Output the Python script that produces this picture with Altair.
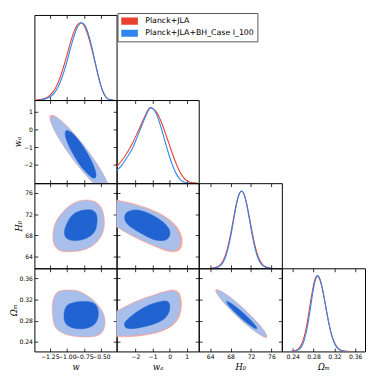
import altair as alt
import pandas as pd

SERIES = ["Planck+JLA", "Planck+JLA+BH_Case I_100"]
LINE_RED = "#e8412f"
LINE_BLUE = "#2f86ee"
RED_OUTER = "#f3a69f"
BLUE_OUTER = "#a7bfea"
BLUE_INNER = "#2063d1"

TITLES = {"w": "w", "wa": "wₐ", "H0": "H₀", "Om": "Ωₘ"}
TICKS = {"w": [-1.25, -1.0, -0.75, -0.5], "wa": [-2, -1, 0, 1],
         "H0": [64, 68, 72, 76], "Om": [0.24, 0.28, 0.32, 0.36]}
FMT = {"w": ".2f", "wa": "d", "H0": "d", "Om": ".2f"}
XDOM = {"w": [-1.476, -0.269], "wa": [-3.11, 1.71], "H0": [61.76, 78.05], "Om": [0.2193, 0.3788]}
YDOM = {"wa": [-3.04, 1.68], "H0": [61.8, 77.85], "Om": [0.222, 0.379]}

# ---------------- 1D marginals (normalised to peak 1) ----------------
W_RED_X = [-1.45, -1.40, -1.35, -1.30, -1.25, -1.20, -1.15, -1.10, -1.05, -1.00, -0.95, -0.90,
           -0.85, -0.80, -0.75, -0.70, -0.65, -0.60, -0.55, -0.50, -0.45, -0.40, -0.35, -0.30]
W_RED_P = [0.003, 0.007, 0.015, 0.031, 0.061, 0.109, 0.183, 0.288, 0.421, 0.575, 0.732, 0.871,
           0.966, 1.000, 0.966, 0.867, 0.717, 0.537, 0.352, 0.190, 0.075, 0.018, 0.003, 0.0]
W_BLUE_X = [-1.38, -1.33, -1.28, -1.23, -1.18, -1.13, -1.08, -1.03, -0.98, -0.93, -0.88,
            -0.83, -0.78, -0.73, -0.68, -0.63, -0.58, -0.53, -0.48, -0.43, -0.38, -0.33]
W_BLUE_P = [0.005, 0.012, 0.026, 0.052, 0.097, 0.167, 0.269, 0.401, 0.558, 0.720, 0.864,
            0.964, 1.0, 0.960, 0.846, 0.677, 0.480, 0.286, 0.130, 0.040, 0.007, 0.0]

WA_RED_X = [-3.3, -3.1, -2.8, -2.5, -2.2, -1.9, -1.6, -1.4, -1.2, -1.1, -1.0, -0.8, -0.6, -0.4,
            -0.2, 0.0, 0.2, 0.4, 0.6, 0.8, 1.0, 1.2, 1.4, 1.6]
WA_RED_P = [0.17, 0.22, 0.30, 0.40, 0.52, 0.66, 0.81, 0.91, 0.99, 1.0, 0.99, 0.95, 0.87, 0.76,
            0.63, 0.50, 0.37, 0.25, 0.15, 0.08, 0.035, 0.012, 0.004, 0.001]
WA_BLUE_X = [-3.3, -3.1, -2.8, -2.5, -2.2, -1.9, -1.6, -1.4, -1.2, -1.1, -1.0, -0.8, -0.6, -0.4,
             -0.2, 0.0, 0.2, 0.4, 0.6, 0.8, 1.0, 1.2]
WA_BLUE_P = [0.13, 0.17, 0.24, 0.34, 0.45, 0.61, 0.78, 0.89, 0.98, 1.0, 0.99, 0.93, 0.81, 0.66,
             0.50, 0.35, 0.22, 0.12, 0.055, 0.02, 0.006, 0.001]

H0_X = [64.15, 64.65, 65.15, 65.65, 66.15, 66.65, 67.15, 67.65, 68.15, 68.65, 69.15, 69.65, 70.15,
        70.65, 71.15, 71.65, 72.15, 72.65, 73.15, 73.65, 74.15, 74.65, 75.15, 75.65, 76.15]
H0_RED_P = [0.0017, 0.0047, 0.0119, 0.0277, 0.0588, 0.114, 0.203, 0.330, 0.492, 0.671, 0.838, 0.957,
            1.0, 0.957, 0.838, 0.671, 0.492, 0.330, 0.203, 0.114, 0.0588, 0.0277, 0.0119, 0.0047, 0.0017]
H0_BLUE_P = [0.0009, 0.0027, 0.0076, 0.0192, 0.0439, 0.0914, 0.172, 0.295, 0.458, 0.644, 0.823, 0.952,
             1.0, 0.952, 0.823, 0.644, 0.458, 0.295, 0.172, 0.0914, 0.0439, 0.0192, 0.0076, 0.0027, 0.0009]

OM_RED_X = [0.237, 0.242, 0.247, 0.252, 0.257, 0.262, 0.267, 0.272, 0.277, 0.282, 0.287, 0.292,
            0.297, 0.302, 0.307, 0.312, 0.317, 0.322, 0.327, 0.332, 0.337, 0.342, 0.347]
OM_RED_P = [0.0014, 0.0049, 0.015, 0.040, 0.094, 0.194, 0.350, 0.554, 0.769, 0.936, 1.0, 0.952,
            0.823, 0.644, 0.458, 0.295, 0.172, 0.091, 0.044, 0.019, 0.0076, 0.0027, 0.0009]
OM_BLUE_X = [0.238, 0.243, 0.248, 0.253, 0.258, 0.263, 0.268, 0.273, 0.278, 0.283, 0.288, 0.293,
             0.298, 0.303, 0.308, 0.313, 0.318, 0.323, 0.328, 0.333, 0.338, 0.343]
OM_BLUE_P = [0.0008, 0.0030, 0.0101, 0.0297, 0.0756, 0.166, 0.317, 0.524, 0.751, 0.931, 1.0, 0.947,
             0.805, 0.615, 0.421, 0.259, 0.143, 0.0706, 0.0313, 0.0125, 0.0045, 0.0014]

# ---------------- 2D contours (vertices in data units) ----------------
W_WA_R95_X = [-0.377, -0.486, -0.680, -0.908, -1.109, -1.230, -1.238, -1.129, -0.935, -0.707, -0.506, -0.385]
W_WA_R95_Y = [-3.608, -3.459, -2.757, -1.693, -0.552, 0.366, 0.808, 0.659, -0.043, -1.107, -2.248, -3.166]
W_WA_B95_X = [-0.392, -0.497, -0.684, -0.905, -1.099, -1.216, -1.223, -1.118, -0.931, -0.710, -0.516, -0.399]
W_WA_B95_Y = [-3.533, -3.389, -2.711, -1.683, -0.581, 0.306, 0.733, 0.589, -0.089, -1.117, -2.219, -3.106]
W_WA_B68_X = [-0.585, -0.652, -0.760, -0.876, -0.973, -1.022, -1.010, -0.942, -0.835, -0.718, -0.622, -0.573]
W_WA_B68_Y = [-2.744, -2.661, -2.239, -1.589, -0.889, -0.328, -0.056, -0.139, -0.564, -1.211, -1.911, -2.472]

W_H0_R95_X = [-0.710, -0.560, -0.477, -0.447, -0.477, -0.586, -0.735, -0.908, -1.081, -1.181, -1.205, -1.172, -1.057, -0.884]
W_H0_R95_Y = [74.70, 74.19, 72.79, 70.56, 68.32, 66.41, 65.32, 64.95, 65.01, 66.09, 68.00, 70.23, 72.47, 74.19]
W_H0_B95_X = [-0.714, -0.570, -0.489, -0.460, -0.489, -0.594, -0.738, -0.906, -1.073, -1.169, -1.193, -1.160, -1.049, -0.882]
W_H0_B95_Y = [74.52, 74.03, 72.68, 70.53, 68.37, 66.53, 65.48, 65.12, 65.18, 66.22, 68.07, 70.22, 72.37, 74.03]
W_H0_B68_X = [-0.786, -0.642, -0.570, -0.556, -0.594, -0.714, -0.882, -1.001, -1.035, -0.987, -0.906]
W_H0_B68_Y = [72.68, 72.80, 72.06, 70.53, 68.68, 67.45, 67.02, 67.45, 68.68, 70.53, 71.94]

WA_H0_R95_X = [-3.454, -3.033, -2.305, -1.347, -0.360, 0.350, 0.720, 0.650, 0.250, -0.389, -1.347, -2.305, -3.033, -3.454]
WA_H0_R95_Y = [75.05, 74.62, 74.13, 73.20, 71.78, 69.90, 67.64, 65.55, 64.92, 65.32, 66.60, 68.08, 69.45, 70.18]
WA_H0_B95_X = [-3.454, -3.033, -2.305, -1.347, -0.389, 0.281, 0.607, 0.530, 0.185, -0.389, -1.347, -2.305, -3.033, -3.454]
WA_H0_B95_Y = [74.83, 74.40, 73.91, 72.99, 71.57, 69.73, 67.64, 65.73, 65.18, 65.55, 66.78, 68.25, 69.60, 70.34]
WA_H0_B68_X = [-2.496, -1.922, -1.155, -0.389, -0.006, -0.045, -0.389, -0.964, -1.730, -2.401, -2.631]
WA_H0_B68_Y = [72.37, 72.80, 72.06, 70.53, 68.99, 67.64, 67.02, 67.27, 68.50, 69.91, 71.14]

W_OM_R95_X = [-1.106, -0.933, -0.785, -0.612, -0.488, -0.438, -0.463, -0.562, -0.785, -1.006, -1.155, -1.204, -1.214, -1.179]
W_OM_R95_Y = [0.3362, 0.3380, 0.3336, 0.3190, 0.3000, 0.2810, 0.2620, 0.2512, 0.2494, 0.2539, 0.2652, 0.2841, 0.3095, 0.3272]
W_OM_B95_X = [-1.097, -0.930, -0.786, -0.618, -0.498, -0.450, -0.474, -0.570, -0.786, -1.001, -1.145, -1.193, -1.203, -1.169]
W_OM_B95_Y = [0.3348, 0.3366, 0.3323, 0.3182, 0.2998, 0.2814, 0.2629, 0.2525, 0.2507, 0.2550, 0.2660, 0.2844, 0.3090, 0.3262]
W_OM_B68_X = [-0.953, -0.786, -0.618, -0.546, -0.546, -0.618, -0.762, -0.930, -1.025, -1.040, -1.011]
W_OM_B68_Y = [0.3121, 0.3164, 0.3139, 0.3028, 0.2844, 0.2709, 0.2648, 0.2672, 0.2771, 0.2936, 0.3059]

WA_OM_R95_X = [-3.454, -3.033, -2.305, -1.347, -0.389, 0.210, 0.590, 0.700, 0.550, 0.150, -0.560, -1.539, -2.497, -3.033, -3.454]
WA_OM_R95_Y = [0.2922, 0.2995, 0.3118, 0.3241, 0.3343, 0.3381, 0.3303, 0.3090, 0.2864, 0.2707, 0.2592, 0.2523, 0.2497, 0.2497, 0.2497]
WA_OM_B95_X = [-3.454, -3.033, -2.305, -1.347, -0.389, 0.185, 0.511, 0.607, 0.473, 0.090, -0.581, -1.539, -2.497, -3.033, -3.454]
WA_OM_B95_Y = [0.2906, 0.2979, 0.3102, 0.3225, 0.3323, 0.3360, 0.3286, 0.3090, 0.2875, 0.2721, 0.2611, 0.2543, 0.2519, 0.2519, 0.2519]
WA_OM_B68_X = [-2.497, -1.922, -1.155, -0.389, -0.045, -0.006, -0.293, -0.964, -1.922, -2.497, -2.650]
WA_OM_B68_Y = [0.2814, 0.2967, 0.3102, 0.3170, 0.3139, 0.2998, 0.2844, 0.2734, 0.2660, 0.2660, 0.2734]

H0_OM_R95_X = [75.11, 74.10, 72.02, 69.44, 67.03, 65.45, 65.12, 66.13, 68.22, 70.80, 73.21, 74.78]
H0_OM_R95_Y = [0.2488, 0.2513, 0.2652, 0.2866, 0.3100, 0.3290, 0.3384, 0.3359, 0.3221, 0.3007, 0.2773, 0.2583]
H0_OM_B95_X = [74.92, 73.95, 71.95, 69.47, 67.15, 65.63, 65.31, 66.28, 68.29, 70.77, 73.09, 74.60]
H0_OM_B95_Y = [0.2505, 0.2529, 0.2663, 0.2869, 0.3094, 0.3276, 0.3367, 0.3343, 0.3210, 0.3004, 0.2779, 0.2597]
H0_OM_B68_X = [73.12, 72.56, 71.36, 69.84, 68.42, 67.46, 67.24, 67.81, 69.01, 70.53, 71.94, 72.90]
H0_OM_B68_Y = [0.2651, 0.2667, 0.2747, 0.2870, 0.3001, 0.3108, 0.3161, 0.3145, 0.3064, 0.2942, 0.2810, 0.2704]

COL_W = {"w": 84, "wa": 84, "H0": 85, "Om": 85}
ROW_H = {"w": 87, "wa": 85, "H0": 87, "Om": 85}
TS = 3.5


def sx(p):
    return alt.Scale(domain=XDOM[p], nice=False, zero=False)


def sy(p):
    return alt.Scale(domain=YDOM[p], nice=False, zero=False)


def ax_bottom(p, labels):
    kw = dict(orient="bottom", values=TICKS[p], format=FMT[p], labels=labels, offset=-TS,
              tickSize=TS, domain=False, grid=False, labelOverlap=False, labelFlush=False,
              labelPadding=2, titlePadding=3)
    kw["title"] = TITLES[p] if labels else None
    return alt.Axis(**kw)


def ax_left(p, labels):
    kw = dict(orient="left", values=TICKS[p], format=FMT[p], labels=labels, offset=-TS,
              tickSize=TS, domain=False, grid=False, labelOverlap=False, labelFlush=False,
              labelPadding=2, titlePadding=1)
    kw["title"] = TITLES[p] if labels else None
    return alt.Axis(**kw)


def ax_top(p):
    return alt.Axis(orient="top", values=TICKS[p], labels=False, title=None, offset=-TS,
                    tickSize=TS, domain=False, grid=False)


def ax_right(p):
    return alt.Axis(orient="right", values=TICKS[p], labels=False, title=None, offset=-TS,
                    tickSize=TS, domain=False, grid=False)


def poly_df(xs, ys):
    return pd.DataFrame({"x": xs, "y": ys, "i": list(range(len(xs)))})


def panel2d(px, py, polys, xlab, ylab):
    layers = []
    for k, (xs, ys, col) in enumerate(polys):
        first = k == 0
        layers.append(
            alt.Chart(poly_df(xs, ys)).mark_line(
                interpolate="cardinal-closed", fill=col, stroke=col, strokeWidth=0.5, clip=True
            ).encode(
                x=alt.X("x:Q", scale=sx(px), axis=ax_bottom(px, xlab) if first else None),
                y=alt.Y("y:Q", scale=sy(py), axis=ax_left(py, ylab) if first else None),
                order=alt.Order("i:Q"),
            )
        )
    xs, ys, _ = polys[0]
    layers.append(
        alt.Chart(poly_df(xs, ys)).mark_line(opacity=0, clip=True).encode(
            x=alt.X("x:Q", scale=sx(px), axis=ax_top(px)),
            y=alt.Y("y:Q", scale=sy(py), axis=ax_right(py)),
            order=alt.Order("i:Q"),
        )
    )
    return alt.layer(*layers).resolve_axis(x="independent", y="independent").properties(
        width=COL_W[px], height=ROW_H[py])


def panel1d(p, curves, xlab, with_legend=False):
    ysc = alt.Scale(domain=[0, 1.1], nice=False, zero=False)
    layers = []
    if with_legend:
        df = pd.concat([pd.DataFrame({"x": xs, "p": ps, "s": name})
                        for (xs, ps, _), name in zip(curves, SERIES)])
        layers.append(
            alt.Chart(df).mark_line(interpolate="monotone", clip=True, strokeWidth=1.1).encode(
                x=alt.X("x:Q", scale=sx(p), axis=ax_bottom(p, xlab)),
                y=alt.Y("p:Q", scale=ysc, axis=None),
                color=alt.Color("s:N", scale=alt.Scale(domain=SERIES, range=[LINE_RED, LINE_BLUE]),
                                legend=alt.Legend(
                                    title=None, orient="none", legendX=85, legendY=-2,
                                    symbolType="M-1.7,0H1.7", symbolSize=100, symbolStrokeWidth=7.3,
                                    labelFont="DejaVu Sans", labelFontSize=8, labelColor="black",
                                    labelOffset=7, symbolOffset=0, rowPadding=2.4, padding=3.3,
                                    clipHeight=10,
                                    strokeColor="#555555", fillColor="white")),
            )
        )
    else:
        for k, (xs, ps, col) in enumerate(curves):
            layers.append(
                alt.Chart(pd.DataFrame({"x": xs, "p": ps})).mark_line(
                    interpolate="monotone", clip=True, color=col, strokeWidth=1.1).encode(
                    x=alt.X("x:Q", scale=sx(p), axis=ax_bottom(p, xlab) if k == 0 else None),
                    y=alt.Y("p:Q", scale=ysc, axis=None),
                )
            )
    xs, ps, _ = curves[0]
    layers.append(
        alt.Chart(pd.DataFrame({"x": xs, "p": ps})).mark_line(opacity=0, clip=True).encode(
            x=alt.X("x:Q", scale=sx(p), axis=ax_top(p)),
            y=alt.Y("p:Q", scale=ysc, axis=None),
        )
    )
    return alt.layer(*layers).resolve_axis(x="independent").properties(width=COL_W[p], height=ROW_H[p])


def blank(pc, pr):
    return alt.Chart(pd.DataFrame({"x": [0.0]})).mark_point(opacity=0).encode(
        x=alt.X("x:Q", axis=None), y=alt.Y("x:Q", axis=None)
    ).properties(width=COL_W[pc], height=ROW_H[pr], view=alt.ViewBackground(strokeOpacity=0))


p11 = panel1d("w", [(W_RED_X, W_RED_P, LINE_RED), (W_BLUE_X, W_BLUE_P, LINE_BLUE)], False, True)
p22 = panel1d("wa", [(WA_RED_X, WA_RED_P, LINE_RED), (WA_BLUE_X, WA_BLUE_P, LINE_BLUE)], False)
p33 = panel1d("H0", [(H0_X, H0_RED_P, LINE_RED), (H0_X, H0_BLUE_P, LINE_BLUE)], False)
p44 = panel1d("Om", [(OM_RED_X, OM_RED_P, LINE_RED), (OM_BLUE_X, OM_BLUE_P, LINE_BLUE)], True)

p21 = panel2d("w", "wa", [(W_WA_R95_X, W_WA_R95_Y, RED_OUTER), (W_WA_B95_X, W_WA_B95_Y, BLUE_OUTER),
                          (W_WA_B68_X, W_WA_B68_Y, BLUE_INNER)], False, True)
p31 = panel2d("w", "H0", [(W_H0_R95_X, W_H0_R95_Y, RED_OUTER), (W_H0_B95_X, W_H0_B95_Y, BLUE_OUTER),
                          (W_H0_B68_X, W_H0_B68_Y, BLUE_INNER)], False, True)
p32 = panel2d("wa", "H0", [(WA_H0_R95_X, WA_H0_R95_Y, RED_OUTER), (WA_H0_B95_X, WA_H0_B95_Y, BLUE_OUTER),
                           (WA_H0_B68_X, WA_H0_B68_Y, BLUE_INNER)], False, False)
p41 = panel2d("w", "Om", [(W_OM_R95_X, W_OM_R95_Y, RED_OUTER), (W_OM_B95_X, W_OM_B95_Y, BLUE_OUTER),
                          (W_OM_B68_X, W_OM_B68_Y, BLUE_INNER)], True, True)
p42 = panel2d("wa", "Om", [(WA_OM_R95_X, WA_OM_R95_Y, RED_OUTER), (WA_OM_B95_X, WA_OM_B95_Y, BLUE_OUTER),
                           (WA_OM_B68_X, WA_OM_B68_Y, BLUE_INNER)], True, False)
p43 = panel2d("H0", "Om", [(H0_OM_R95_X, H0_OM_R95_Y, RED_OUTER), (H0_OM_B95_X, H0_OM_B95_Y, BLUE_OUTER),
                           (H0_OM_B68_X, H0_OM_B68_Y, BLUE_INNER)], True, False)

cells = [
    p11, blank("wa", "w"), blank("H0", "w"), blank("Om", "w"),
    p21, p22, blank("H0", "wa"), blank("Om", "wa"),
    p31, p32, p33, blank("Om", "H0"),
    p41, p42, p43, p44,
]

chart = alt.concat(*cells, columns=4, spacing=0, bounds="flush").properties(
    padding=0
).configure_view(
    stroke="black", strokeWidth=1
).configure_axis(
    labelFont="DejaVu Sans", labelFontSize=6.2, labelColor="black",
    tickColor="black", tickWidth=0.8,
    titleFont="DejaVu Serif", titleFontStyle="italic", titleFontSize=8.5,
    titleFontWeight="normal", titleColor="black",
)

chart.save("out.html", embed_options={"renderer": "svg", "actions": False})
